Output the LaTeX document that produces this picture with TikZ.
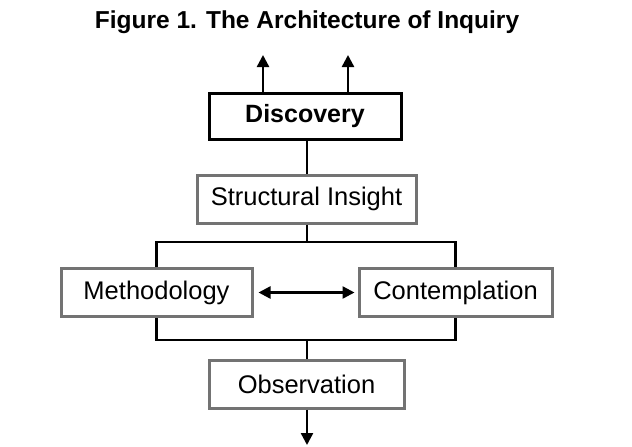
\documentclass[tikz,border=0pt]{standalone}
\usepackage{fontspec}
\setmainfont{Liberation Sans}
\usetikzlibrary{arrows.meta}
\begin{document}
\begin{tikzpicture}[x=1pt,y=-1pt,
 gbox/.style={draw=black!55,line width=3pt,minimum height=48pt,inner sep=0pt,font=\fontsize{25.5}{28}\selectfont},
 ln/.style={line width=2.4pt},
 tip/.style={Triangle[length=12pt,width=12pt]},
 ar/.style={ln,-{Triangle[length=12pt,width=12pt]}}]
\useasboundingbox (0,0) rectangle (632,447);
\node[font=\bfseries\fontsize{24.5}{28}\selectfont] (title) at (307,22) {Figure 1. The Architecture of Inquiry};
\node[draw=black,line width=3pt,minimum width=192pt,minimum height=46pt,inner sep=0pt,font=\bfseries\fontsize{25}{28}\selectfont] (disc) at (305,116) {Discovery};
\node[gbox,minimum width=219pt] (si) at (306.5,199) {Structural Insight};
\node[gbox,minimum width=191pt] (meth) at (156.5,292.5) {Methodology};
\node[gbox,minimum width=193pt] (cont) at (455.5,292.5) {Contemplation};
\node[gbox,minimum width=195pt] (obs) at (306.5,384) {Observation};
\coordinate (u1) at (263,55); \coordinate (u2) at (348,55);
\coordinate (d1) at (307,445);
\draw[ar] (disc.north -| u1) -- (u1);
\draw[ar] (disc.north -| u2) -- (u2);
\coordinate (tb) at (307,242); \coordinate (bb) at (307,340);
\draw[ln] (disc.south -| tb) -- (si.north -| tb);
\draw[ln] (si.south -| tb) -- (tb);
\draw[ln] (meth.north) |- (tb) -| (cont.north);
\draw[ln] (meth.south) |- (bb) -| (cont.south);
\draw[ln] (bb) -- (obs.north -| bb);
\draw[ar] (obs.south -| bb) -- (d1);
\draw[ln,{Triangle[length=12pt,width=12pt]}-{Triangle[length=12pt,width=12pt]}] ([xshift=5pt]meth.east) -- ([xshift=-3pt]cont.west);
\end{tikzpicture}
\end{document}
